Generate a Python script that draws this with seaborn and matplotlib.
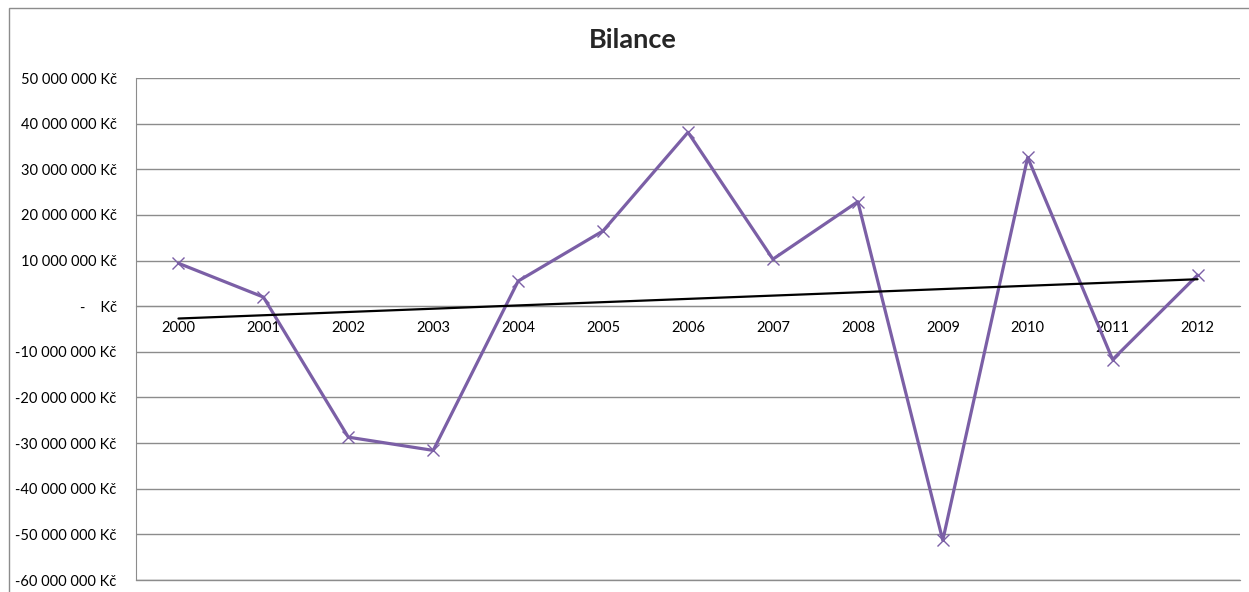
"""
Bilance - yearly balance with linear trend, Excel-like styling.
"""

import numpy as np
import pandas as pd
import matplotlib
matplotlib.use("Agg")
import matplotlib.pyplot as plt
from matplotlib.patches import Rectangle
from matplotlib.ticker import FixedLocator, FuncFormatter
import seaborn as sns


# ──────────────────────────────────────────────
# Data
# ──────────────────────────────────────────────

years = ["2000", "2001", "2002", "2003", "2004", "2005", "2006",
         "2007", "2008", "2009", "2010", "2011", "2012"]
balance = [9.4e6, 2.0e6, -28.7e6, -31.6e6, 5.5e6, 16.5e6, 38.1e6,
           10.3e6, 22.9e6, -51.3e6, 32.6e6, -11.7e6, 6.8e6]
y_ticks = [50e6, 40e6, 30e6, 20e6, 10e6, 0, -10e6, -20e6, -30e6, -40e6, -50e6, -60e6]
title = "Bilance"

df = pd.DataFrame({"pos": np.arange(len(years)), "year": years, "balance": balance})


def czk(v, _pos=None):
    """Excel accounting style: '50 000 000 Kč', zero as '-   Kč'."""
    if v == 0:
        return "-    Kč"
    return f"{v:,.0f}".replace(",", " ") + " Kč"


# ──────────────────────────────────────────────
# Plot
# ──────────────────────────────────────────────

sns.set_style("white")
plt.rcParams["font.family"] = ["Lato", "DejaVu Sans"]

grid_col = "#8c8c8c"
purple = "#7b5fa6"

fig = plt.figure(figsize=(12.49, 5.92), dpi=100)
ax = fig.add_axes([136 / 1249, 1 - 580 / 592, (1240 - 136) / 1249, (580 - 78) / 592])

sns.lineplot(data=df, x="pos", y="balance", ax=ax, color=purple, linewidth=2.3,
             marker="x", markersize=8, markeredgewidth=1.0, markeredgecolor=purple,
             zorder=3)
sns.regplot(data=df, x="pos", y="balance", ax=ax, scatter=False, ci=None,
            truncate=True, color="black", line_kws={"linewidth": 1.6, "zorder": 4})

ax.set_xlim(-0.5, len(years) - 0.5)
ax.set_ylim(-60e6, 50e6)
ax.yaxis.set_major_locator(FixedLocator(y_ticks))
ax.yaxis.set_major_formatter(FuncFormatter(czk))
ax.grid(axis="y", color=grid_col, linewidth=1.0)
ax.grid(axis="x", visible=False)
# bottom gridline sits on the axes edge, keep it unclipped
ax.axhline(y_ticks[-1], color=grid_col, linewidth=1.0, clip_on=False, zorder=1)

# category axis sits on zero
ax.spines["bottom"].set_position(("data", 0))
ax.spines["bottom"].set_color(grid_col)
ax.spines["left"].set_color(grid_col)
ax.spines["top"].set_visible(False)
ax.spines["right"].set_visible(False)

ax.set_xticks(df["pos"])
ax.set_xticklabels(years)
ax.set_xticks(np.arange(-0.5, len(years), 1.0), minor=True)
ax.tick_params(axis="x", which="major", length=0, pad=11, labelsize=10.5, colors="black")
ax.tick_params(axis="x", which="minor", length=5, width=1, color=grid_col, direction="out")
ax.tick_params(axis="y", which="major", length=5, width=1, color=grid_col,
               labelsize=10.5, labelcolor="black", pad=9)
ax.set_xlabel("")
ax.set_ylabel("")

fig.text(633 / 1249, 1 - 40 / 592, title, ha="center", va="center",
         fontsize=19.5, fontweight="bold")

# outer chart frame
fig.patches.append(Rectangle((9 / 1249, -0.1), 1.2, 1 - 8 / 592 + 0.1,
                             transform=fig.transFigure, fill=False,
                             edgecolor=grid_col, linewidth=1.0))

fig.savefig("out.png", dpi=100, facecolor="white")
